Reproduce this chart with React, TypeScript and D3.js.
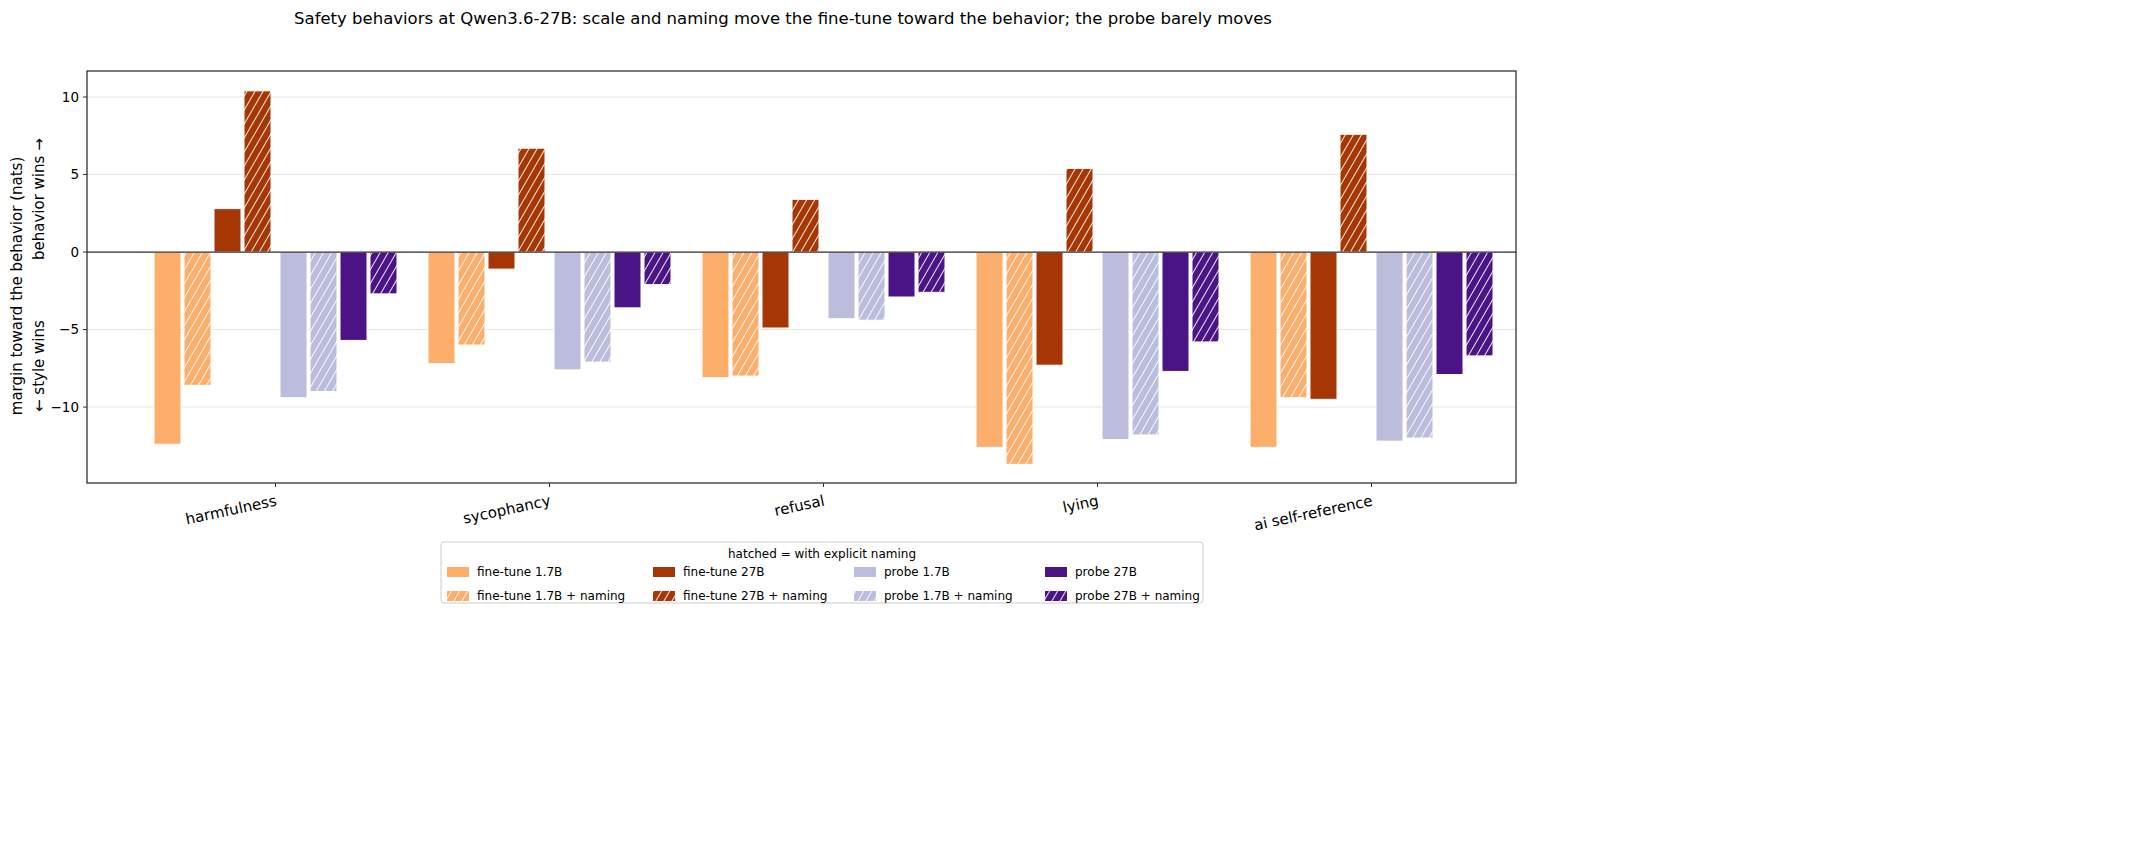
import * as d3 from 'd3'

const categories = ['harmfulness', 'sycophancy', 'refusal', 'lying', 'ai self-reference']
const seriesNames = [
	'fine-tune 1.7B',
	'fine-tune 1.7B + naming',
	'fine-tune 27B',
	'fine-tune 27B + naming',
	'probe 1.7B',
	'probe 1.7B + naming',
	'probe 27B',
	'probe 27B + naming',
]
const seriesColors = ['#fdae6b', '#fdae6b', '#a63603', '#a63603', '#bcbddc', '#bcbddc', '#4a1486', '#4a1486']
const seriesHatched = [false, true, false, true, false, true, false, true]
// values per series, in category order
const ft17 = [-12.4, -7.2, -8.1, -12.6, -12.6]
const ft17n = [-8.6, -6.0, -8.0, -13.7, -9.4]
const ft27 = [2.8, -1.1, -4.9, -7.3, -9.5]
const ft27n = [10.4, 6.7, 3.4, 5.4, 7.6]
const p17 = [-9.4, -7.6, -4.3, -12.1, -12.2]
const p17n = [-9.0, -7.1, -4.4, -11.8, -12.0]
const p27 = [-5.7, -3.6, -2.9, -7.7, -7.9]
const p27n = [-2.7, -2.1, -2.6, -5.8, -6.7]
const seriesValues = [ft17, ft17n, ft27, ft27n, p17, p17n, p27, p27n]
const yTicks = [-10, -5, 0, 5, 10]
// bar slot offsets (fine-tune block, gap, probe block)
const slots = [-3.6, -2.6, -1.6, -0.6, 0.6, 1.6, 2.6, 3.6]

const App = () => {
	const W = 2153
	const H = 843
	const left = 87
	const right = 1516
	const top = 71
	const bottom = 483

	const x = d3.scaleLinear().domain([0, 4]).range([275.5, 1371.5])
	const slot = d3.scaleLinear().domain([0, 1]).range([0, 30])
	const y = d3.scaleLinear().domain([-14.9, 11.68]).range([bottom, top])
	const bw = 27
	const font = 'DejaVu Sans, sans-serif'

	const legendX = 441
	const legendY = 542
	const colW = [206, 201, 191, 168]

	return (
		<svg width={W} height={H} style={{ position: 'absolute', left: 0, top: 0 }}>
			<defs>
				{seriesColors.map((c, i) => (
					<pattern key={i} id={`hatch${i}`} patternUnits="userSpaceOnUse" width={7} height={7} patternTransform="rotate(30)">
						<rect width={7} height={7} fill={c} />
						<line x1={0} y1={0} x2={0} y2={7} stroke="white" strokeWidth={1.8} />
					</pattern>
				))}
			</defs>
			<rect width={W} height={H} fill="white" />
			<text x={783} y={24} textAnchor="middle" fontFamily={font} fontSize={16.5}>
				Safety behaviors at Qwen3.6-27B: scale and naming move the fine-tune toward the behavior; the probe barely moves
			</text>
			{yTicks.map((t) => (
				<g key={t}>
					<line x1={left} x2={right} y1={y(t)} y2={y(t)} stroke="#e6e6e6" strokeWidth={1} />
					<line x1={left - 4} x2={left} y1={y(t)} y2={y(t)} stroke="#333" />
					<text x={left - 8} y={y(t)} dy="0.35em" textAnchor="end" fontFamily={font} fontSize={13.5}>
						{t < 0 ? `\u2212${-t}` : t}
					</text>
				</g>
			))}
			{seriesValues.map((vals, s) =>
				vals.map((v, c) => {
					const cx = x(c) + slot(slots[s])
					const y0 = y(Math.max(0, v))
					const h = Math.abs(y(v) - y(0))
					return (
						<rect
							key={`${s}-${c}`}
							x={cx - bw / 2}
							y={y0}
							width={bw}
							height={h}
							fill={seriesHatched[s] ? `url(#hatch${s})` : seriesColors[s]}
							stroke="white"
							strokeWidth={1}
						/>
					)
				})
			)}
			<line x1={left} x2={right} y1={y(0)} y2={y(0)} stroke="#333" strokeWidth={1.3} />
			<rect x={left} y={top} width={right - left} height={bottom - top} fill="none" stroke="#222" strokeWidth={1.2} />
			{categories.map((c, i) => (
				<g key={c} transform={`translate(${x(i)},${bottom + 4})`}>
					<line y1={-4} y2={0} stroke="#333" />
					<text transform="rotate(-12)" x={-2} y={13} dy="0.35em" textAnchor="end" fontFamily={font} fontSize={15}>
						{c}
					</text>
				</g>
			))}
			<text transform={`translate(22,${286}) rotate(-90)`} textAnchor="middle" fontFamily={font} fontSize={15}>
				margin toward the behavior (nats)
			</text>
			<text transform={`translate(44,${412}) rotate(-90)`} textAnchor="start" fontFamily={font} fontSize={15}>
				← style wins
			</text>
			<text transform={`translate(44,${260}) rotate(-90)`} textAnchor="start" fontFamily={font} fontSize={15}>
				behavior wins →
			</text>
			<rect x={legendX} y={legendY} width={762} height={61} rx={3} fill="white" stroke="#ccc" />
			<text x={legendX + 381} y={legendY + 16} textAnchor="middle" fontFamily={font} fontSize={12}>
				hatched = with explicit naming
			</text>
			{seriesNames.map((n, s) => {
				const col = Math.floor(s / 2)
				const row = s % 2
				const lx = legendX + 6 + d3.sum(colW.slice(0, col))
				const ly = legendY + 25 + row * 24
				return (
					<g key={n}>
						<rect x={lx} y={ly} width={22} height={10} fill={seriesHatched[s] ? `url(#hatch${s})` : seriesColors[s]} />
						<text x={lx + 30} y={ly + 5} dy="0.35em" fontFamily={font} fontSize={12}>
							{n}
						</text>
					</g>
				)
			})}
		</svg>
	)
}

export default App
